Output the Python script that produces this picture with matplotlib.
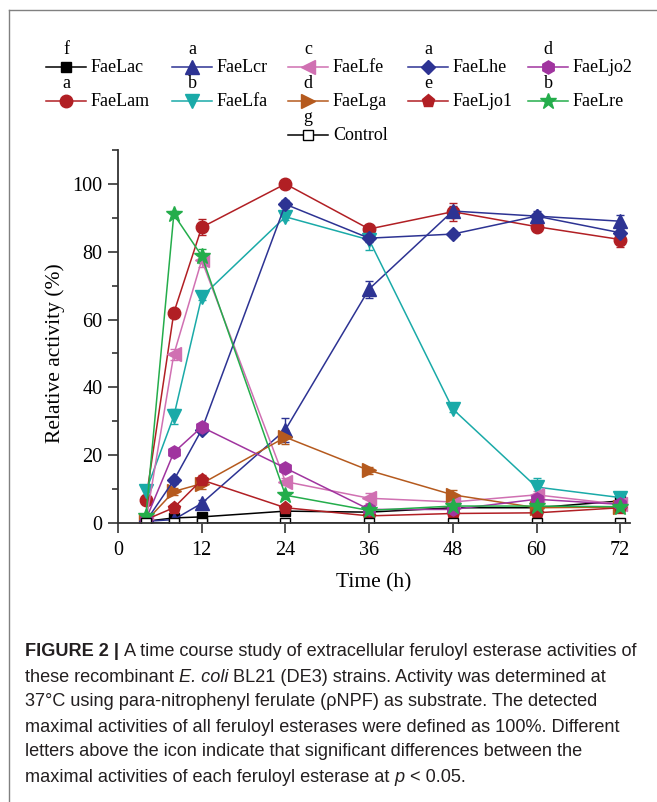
import matplotlib
matplotlib.use('Agg')
import matplotlib.pyplot as plt
from matplotlib.ticker import MultipleLocator

hours = [4, 8, 12, 24, 36, 48, 60, 72]

fae_lac = [0.5, 1.5, 1.8, 3.5, 3.2, 4.5, 4.5, 6.5]
fae_lam = [6.8, 62.0, 87.2, 100.0, 86.7, 91.8, 87.4, 83.6]
fae_lcr = [0.5, 1.0, 5.8, 27.5, 69.0, 92.0, 90.5, 89.0]
fae_lfa = [9.3, 31.5, 66.7, 90.3, 83.5, 33.6, 10.6, 7.5]
fae_lfe = [0.5, 49.7, 77.5, 12.2, 7.3, 6.2, 8.3, 5.5]
fae_lga = [0.5, 9.3, 11.6, 25.3, 15.5, 8.3, 4.5, 4.7]
fae_lhe = [0.5, 12.6, 27.5, 94.0, 84.0, 85.2, 90.5, 85.6]
fae_ljo1 = [1.0, 4.5, 12.7, 4.5, 2.1, 2.8, 3.0, 4.5]
fae_ljo2 = [1.0, 20.8, 28.3, 16.2, 4.0, 4.0, 7.0, 5.5]
fae_lre = [2.0, 91.0, 78.8, 8.2, 3.7, 5.0, 5.0, 4.8]
control = [0, 0, 0, 0, 0, 0, 0, 0]

err_lac = [0.3, 0.5, 0.5, 0.5, 0.5, 0.5, 0.5, 0.8]
err_lam = [1.0, 1.0, 2.4, 0.8, 0.8, 2.6, 0.8, 2.3]
err_lcr = [0.3, 0.5, 1.0, 3.5, 2.5, 1.5, 1.5, 1.8]
err_lfa = [1.0, 2.2, 1.0, 1.0, 3.0, 1.0, 2.8, 1.0]
err_lfe = [0.3, 1.5, 2.0, 1.0, 1.5, 0.8, 1.0, 0.8]
err_lga = [0.3, 1.0, 1.5, 2.0, 1.0, 1.5, 0.5, 0.5]
err_lhe = [0.3, 1.0, 1.0, 1.2, 1.0, 1.0, 1.0, 1.2]
err_ljo1 = [0.3, 1.0, 1.5, 1.0, 1.0, 0.8, 0.8, 0.8]
err_ljo2 = [0.3, 1.0, 1.0, 1.0, 1.0, 1.0, 1.0, 1.0]
err_lre = [0.5, 1.0, 2.0, 1.0, 1.0, 1.0, 1.0, 1.0]

# name, values, errors, colour, marker, size, letter
series = [
    ('FaeLac', fae_lac, err_lac, '#000000', 's', 7, 'f'),
    ('FaeLam', fae_lam, err_lam, '#b11f24', 'o', 9, 'a'),
    ('FaeLcr', fae_lcr, err_lcr, '#2d3393', '^', 9.5, 'a'),
    ('FaeLfa', fae_lfa, err_lfa, '#1aaaa8', 'v', 9.5, 'b'),
    ('FaeLfe', fae_lfe, err_lfe, '#d070b2', '<', 9.5, 'c'),
    ('FaeLga', fae_lga, err_lga, '#b55a1e', '>', 9.5, 'd'),
    ('FaeLhe', fae_lhe, err_lhe, '#2d3393', 'D', 7.5, 'a'),
    ('FaeLjo1', fae_ljo1, err_ljo1, '#b11f24', 'p', 9.5, 'e'),
    ('FaeLjo2', fae_ljo2, err_ljo2, '#a0349f', 'h', 9.5, 'd'),
    ('FaeLre', fae_lre, err_lre, '#24ad4b', '*', 12, 'b'),
    ('Control', control, None, '#000000', 's', 7, 'g'),
]

# legend grid (row, column) for each entry
legend_rows = {
    'FaeLac': (0, 0), 'FaeLcr': (0, 1), 'FaeLfe': (0, 2), 'FaeLhe': (0, 3), 'FaeLjo2': (0, 4),
    'FaeLam': (1, 0), 'FaeLfa': (1, 1), 'FaeLga': (1, 2), 'FaeLjo1': (1, 3), 'FaeLre': (1, 4),
    'Control': (2, 2),
}

serif = 'Liberation Serif'
W, H = 657, 802
fig = plt.figure(figsize=(W / 100, H / 100), dpi=100)

ax = fig.add_axes([118 / W, 279 / H, 512 / W, 373 / H])
for name, vals, err, col, mk, ms, letter in series:
    face = 'white' if name == 'Control' else col
    ax.errorbar(hours, vals, yerr=err, color=col, marker=mk, ms=ms, mfc=face, mec=col,
                lw=1.1, elinewidth=1, capsize=3, capthick=1)

ax.set_xlim(0, 73.4)
ax.set_ylim(0, 110)
ax.set_xticks(range(0, 73, 12))
ax.set_yticks(range(0, 101, 20))
ax.yaxis.set_minor_locator(MultipleLocator(10))
for s in ['top', 'right']:
    ax.spines[s].set_visible(False)
for s in ['left', 'bottom']:
    ax.spines[s].set_color('#333333')
    ax.spines[s].set_linewidth(1.3)
ax.tick_params(which='major', direction='out', length=7, width=1.2, color='#333333',
               labelsize=14.5, pad=4)
ax.tick_params(axis='x', pad=6)
ax.tick_params(which='minor', direction='out', length=4, width=1.2, color='#333333')
for lab in ax.get_xticklabels() + ax.get_yticklabels():
    lab.set_fontfamily(serif)
ax.set_xlabel('Time (h)', fontsize=15.5, family=serif)
ax.set_ylabel('Relative activity (%)', fontsize=15.5, family=serif)
ax.xaxis.set_label_coords(0.5, -0.135)
ax.yaxis.set_label_coords(-0.104, 50 / 110)

# overlay in pixel coordinates for legend, frame and caption
ov = fig.add_axes([0, 0, 1, 1], zorder=-1)
ov.set_xlim(0, W)
ov.set_ylim(H, 0)
ov.axis('off')
ov.patch.set_alpha(0)

ov.plot([9, 9], [10, H], color='#808080', lw=1)
ov.plot([9, W], [10, 10], color='#808080', lw=1)

col_x = [46, 172, 288, 408, 528]
row_y = [67, 101, 135]
for name, vals, err, col, mk, ms, letter in series:
    r, c = legend_rows[name]
    x0, y = col_x[c], row_y[r]
    face = 'white' if name == 'Control' else col
    ov.plot([x0, x0 + 40], [y, y], color=col, lw=1.1)
    ov.plot([x0 + 20], [y], marker=mk, ms=ms, color=col, mfc=face, mec=col)
    ov.text(x0 + 45, y, name, fontsize=13, family=serif, va='center', ha='left')
    ov.text(x0 + 20, y - 13, letter, fontsize=13, family=serif, va='baseline', ha='center')

cap_font = ['Liberation Sans Narrow', 'Liberation Sans']
cap_size = 13.1
cap_col = '#231f20'
caption = [
    [('FIGURE 2 |', 'bold'), ('A time course study of extracellular feruloyl esterase activities of', 'normal')],
    [('these recombinant', 'normal'), ('E. coli', 'italic'), ('BL21 (DE3) strains. Activity was determined at', 'normal')],
    [('37°C using para-nitrophenyl ferulate (ρNPF) as substrate. The detected', 'normal')],
    [('maximal activities of all feruloyl esterases were defined as 100%. Different', 'normal')],
    [('letters above the icon indicate that significant differences between the', 'normal')],
    [('maximal activities of each feruloyl esterase at', 'normal'), ('p', 'italic'), ('< 0.05.', 'normal')],
]

renderer = fig.canvas.get_renderer()
probe = ov.text(0, 0, 'a a', fontsize=cap_size, family=cap_font)
w_sp = probe.get_window_extent(renderer).width
probe.set_text('aa')
w_sp -= probe.get_window_extent(renderer).width
probe.remove()

for i, line in enumerate(caption):
    x = 25
    y = 652 + 25 * i
    for txt, style in line:
        t = ov.text(x, y, txt, fontsize=cap_size, family=cap_font, color=cap_col,
                    va='center', ha='left',
                    fontweight='bold' if style == 'bold' else 'normal',
                    fontstyle='italic' if style == 'italic' else 'normal')
        x += t.get_window_extent(renderer).width + w_sp

fig.savefig('out.png', dpi=100)
